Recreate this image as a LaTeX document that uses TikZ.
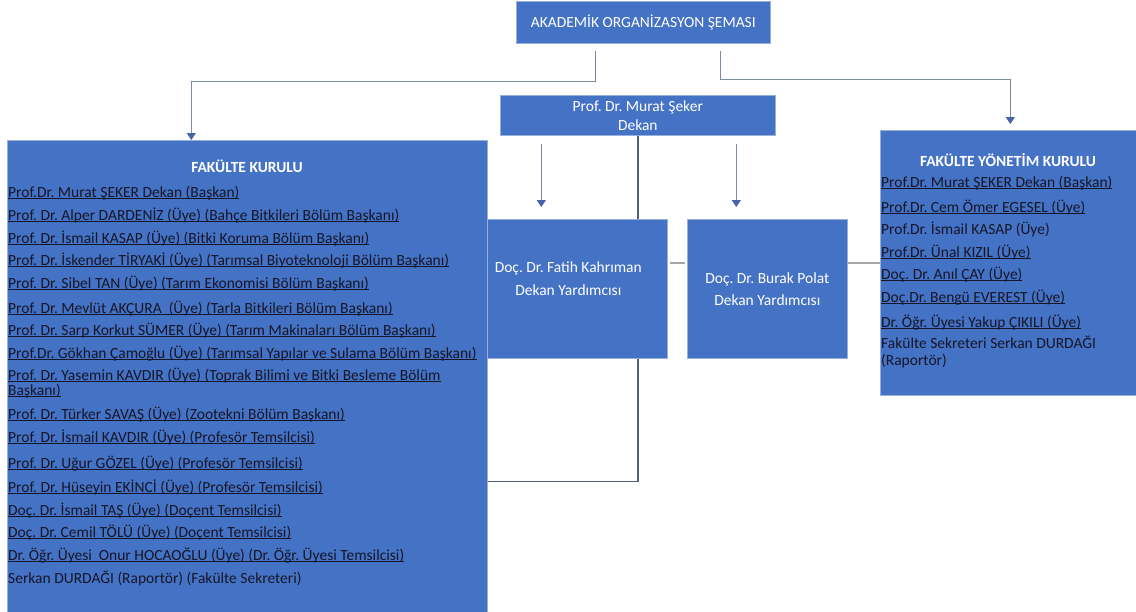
\documentclass[tikz,border=0pt]{standalone}
\usepackage{fontspec}
\setmainfont{Carlito}
\usetikzlibrary{arrows.meta,positioning}
\frenchspacing

\definecolor{boxblue}{RGB}{68,114,196}
\definecolor{edgeblue}{RGB}{150,175,220}
\definecolor{linkgray}{RGB}{125,140,165}
\definecolor{tipblue}{RGB}{70,100,170}
\definecolor{spinegray}{RGB}{80,95,125}
\definecolor{jointgray}{RGB}{166,166,166}
\definecolor{membertext}{RGB}{22,22,40}

% underline sitting close to the baseline
\newcommand{\cizgili}[1]{\setbox0\hbox{#1}\rlap{\rule[-2.2pt]{\wd0}{0.8pt}}\box0}

\begin{document}
\begin{tikzpicture}[x=1pt,y=-1pt,
    every node/.style={font=\fontsize{15.5}{19}\selectfont},
    bluebox/.style={rectangle,draw=edgeblue,line width=0.6pt,fill=boxblue,
        text=white,anchor=north west,inner sep=0pt,align=center},
    heading/.style={text=white,anchor=base,font=\bfseries\fontsize{15.5}{16}\selectfont},
    member/.style={text=membertext,anchor=base west,inner sep=0pt},
    link/.style={draw=linkgray,line width=1.2pt,-{Triangle[length=7pt,width=9pt,color=tipblue]}},
    spine/.style={draw=spinegray,line width=1.4pt},
    joint/.style={draw=jointgray,line width=2pt}]

    \useasboundingbox[fill=white] (0,0) rectangle (1136,611);

    \node[bluebox,minimum width=254pt,minimum height=42pt] (sema) at (516,1)
        {AKADEMİK ORGANİZASYON ŞEMASI};
    \node[bluebox,minimum width=275pt,minimum height=40pt] (dekan) at (500,95)
        {Prof. Dr. Murat Şeker\\Dekan};
    \node[bluebox,minimum width=480pt,minimum height=472pt] (kurul) at (7,140) {};
    \node[bluebox,minimum width=256pt,minimum height=265pt] (yonetim) at (880,130) {};

    % dekan line runs behind the first vice dean box
    \draw[spine] (dekan.south) |- ([yshift=-105pt]kurul.east);

    \node[bluebox,minimum width=180pt,minimum height=139pt] (fatih) at (487,219) {};
    \node[text=white,align=center,font=\fontsize{15.5}{23}\selectfont] (fatihyrd)
        at ([xshift=-9pt,yshift=10pt]fatih.center) {Doç. Dr. Fatih Kahrıman\\Dekan Yardımcısı};
    \node[bluebox,minimum width=160pt,minimum height=139pt,
        font=\fontsize{15.5}{22}\selectfont] (burak) at (687,219)
        {Doç. Dr. Burak Polat\\Dekan Yardımcısı};

    \draw[link] ([xshift=-48pt,yshift=-7pt]sema.south) -- ++(0,31) -| ([xshift=-56pt]kurul.north);
    \draw[link] ([xshift=77pt,yshift=-7pt]sema.south) -- ++(0,29) -| ([xshift=2pt,yshift=6pt]yonetim.north);
    \draw[link] ([xshift=-96.5pt,yshift=-8pt]dekan.south) -- ([xshift=-36pt,yshift=12pt]fatih.north);
    \draw[link] ([xshift=98.5pt,yshift=-8pt]dekan.south) -- ([xshift=-31pt,yshift=12pt]burak.north);

    \draw[joint] ([xshift=2pt]fatih.east |- yonetim.west) -- ([xshift=-2pt]burak.west |- yonetim.west);
    \draw[joint] (burak.east |- yonetim.west) -- (yonetim.west);

    % fakulte kurulu
    \node[heading] (kurulbaslik) at (247,172) {FAKÜLTE KURULU};
    \foreach \yy/\kisi [count=\i] in {
        197/{\cizgili{Prof.Dr. Murat ŞEKER Dekan (Başkan)}},
        220/{\cizgili{Prof. Dr. Alper DARDENİZ (Üye) (Bahçe Bitkileri Bölüm Başkanı)}},
        243/{\cizgili{Prof. Dr. İsmail KASAP (Üye) (Bitki Koruma Bölüm Başkanı)}},
        265/{\cizgili{Prof. Dr. İskender TİRYAKİ (Üye) (Tarımsal Biyoteknoloji Bölüm Başkanı)}},
        288/{\cizgili{Prof. Dr. Sibel TAN (Üye) (Tarım Ekonomisi Bölüm Başkanı)}},
        313/{\cizgili{Prof. Dr. Mevlüt AKÇURA\ \ (Üye) (Tarla Bitkileri Bölüm Başkanı)}},
        335/{\cizgili{Prof. Dr. Sarp Korkut SÜMER (Üye) (Tarım Makinaları Bölüm Başkanı)}},
        358/{\cizgili{Prof.Dr. Gökhan Çamoğlu (Üye) (Tarımsal Yapılar ve Sulama Bölüm Başkanı)}},
        380/{\cizgili{Prof. Dr. Yasemin KAVDIR (Üye) (Toprak Bilimi ve Bitki Besleme Bölüm}},
        395/{\cizgili{Başkanı)}},
        419/{\cizgili{Prof. Dr. Türker SAVAŞ (Üye) (Zootekni Bölüm Başkanı)}},
        442/{\cizgili{Prof. Dr. İsmail KAVDIR (Üye) (Profesör Temsilcisi)}},
        468/{\cizgili{Prof. Dr. Uğur GÖZEL (Üye) (Profesör Temsilcisi)}},
        492/{\cizgili{Prof. Dr. Hüseyin EKİNCİ (Üye) (Profesör Temsilcisi)}},
        515/{\cizgili{Doç. Dr. İsmail TAŞ (Üye) (Doçent Temsilcisi)}},
        537/{\cizgili{Doç. Dr. Cemil TÖLÜ (Üye) (Doçent Temsilcisi)}},
        560/{\cizgili{Dr. Öğr. Üyesi\ \ Onur HOCAOĞLU (Üye) (Dr. Öğr. Üyesi Temsilcisi)}},
        583/{Serkan DURDAĞI (Raportör) (Fakülte Sekreteri)}}
        \node[member] (fk\i) at (8,\yy) {\kisi};

    % fakulte yonetim kurulu
    \node[heading] (yonetimbaslik) at (1008,166) {FAKÜLTE YÖNETİM KURULU};
    \foreach \yy/\kisi [count=\i] in {
        187/{\cizgili{Prof.Dr. Murat ŞEKER Dekan (Başkan)}},
        212/{\cizgili{Prof.Dr. Cem Ömer EGESEL (Üye)}},
        234/{Prof.Dr. İsmail KASAP (Üye)},
        257/{\cizgili{Prof.Dr. Ünal KIZIL (Üye)}},
        279/{\cizgili{Doç. Dr. Anıl ÇAY (Üye)}},
        302/{\cizgili{Doç.Dr. Bengü EVEREST (Üye)}},
        327/{\cizgili{Dr. Öğr. Üyesi Yakup ÇIKILI (Üye)}},
        348/{Fakülte Sekreteri Serkan DURDAĞI},
        365/{(Raportör)}}
        \node[member] (fy\i) at (881,\yy) {\kisi};
\end{tikzpicture}
\end{document}
